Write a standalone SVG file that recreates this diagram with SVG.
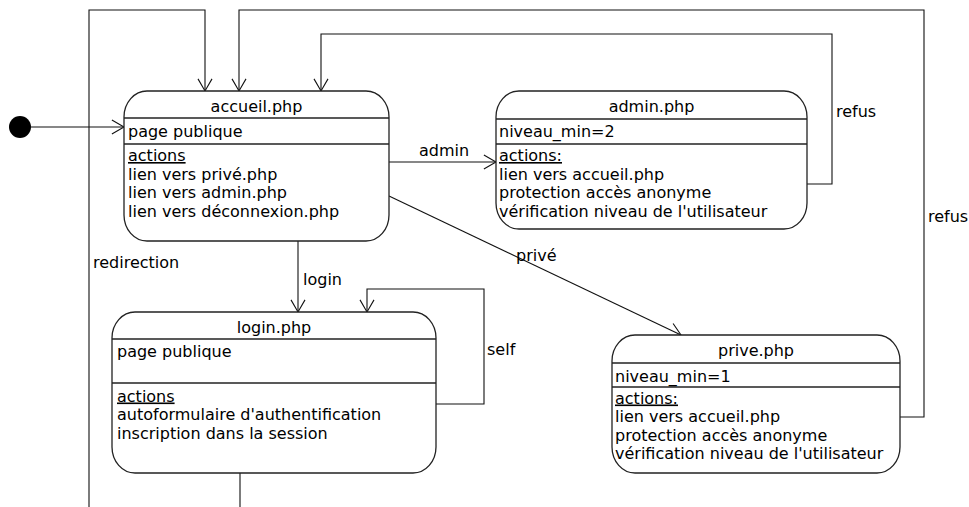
<svg xmlns="http://www.w3.org/2000/svg" width="969" height="507" viewBox="0 0 969 507">
  <style>
    text { font-family: "DejaVu Sans", "Liberation Sans", sans-serif; font-size: 16px; fill: #000; }
    .title { text-anchor: middle; }
    .u { text-decoration: underline; }
    .box { fill: #fff; stroke: #222; stroke-width: 1.3; }
    .sep { stroke: #222; stroke-width: 1.3; }
    .edge { fill: none; stroke: #111; stroke-width: 1.1; }
  </style>
  <defs>
    <marker id="open" markerUnits="userSpaceOnUse" markerWidth="16" markerHeight="16" viewBox="-14 -8 16 16" refX="0" refY="0" orient="auto" overflow="visible">
      <path d="M-12.1,-7 L0,0 L-12.1,7" fill="none" stroke="#111" stroke-width="1.1"/>
    </marker>
  </defs>

  <!-- transitions -->
  <g id="connectors">
    <circle cx="20" cy="127" r="11" fill="#000"/>
    <path class="edge" d="M31,127 H124" marker-end="url(#open)"/>
    <path class="edge" d="M240,473 V515 H89 V10 H205 V91" marker-end="url(#open)"/>
    <path class="edge" d="M900,417 H924 V10 H239 V91" marker-end="url(#open)"/>
    <path class="edge" d="M807,184 H832 V34 H321 V91" marker-end="url(#open)"/>
    <path class="edge" d="M389,162 H496" marker-end="url(#open)"/>
    <path class="edge" d="M389,196 L681,335" marker-end="url(#open)"/>
    <path class="edge" d="M298,241 V312" marker-end="url(#open)"/>
    <path class="edge" d="M436,404 H484 V289 H367 V312" marker-end="url(#open)"/>
    <text x="419" y="156">admin</text>
    <text x="516" y="261">privé</text>
    <text x="303" y="285">login</text>
    <text x="487" y="355">self</text>
    <text x="93" y="268">redirection</text>
    <text x="836" y="117">refus</text>
    <text x="928" y="222">refus</text>
  </g>

  <g id="accueil">
    <rect class="box" x="124" y="91" width="265" height="150" rx="23" ry="26"/>
    <line class="sep" x1="124" y1="118" x2="389" y2="118"/>
    <line class="sep" x1="124" y1="144" x2="389" y2="144"/>
    <text class="title" x="256.5" y="112">accueil.php</text>
    <text x="128" y="137">page publique</text>
    <text class="u" x="128" y="161">actions</text>
    <text x="128" y="179.5">lien vers privé.php</text>
    <text x="128" y="198">lien vers admin.php</text>
    <text x="128" y="216.5">lien vers déconnexion.php</text>
  </g>

  <g id="admin">
    <rect class="box" x="496" y="91" width="311" height="138" rx="23" ry="26"/>
    <line class="sep" x1="496" y1="119" x2="807" y2="119"/>
    <line class="sep" x1="496" y1="144" x2="807" y2="144"/>
    <text class="title" x="651.5" y="112">admin.php</text>
    <text x="499" y="137">niveau_min=2</text>
    <text class="u" x="499" y="161">actions:</text>
    <text x="499" y="179.5">lien vers accueil.php</text>
    <text x="499" y="198">protection accès anonyme</text>
    <text x="499" y="216.5">vérification niveau de l'utilisateur</text>
  </g>

  <g id="login">
    <rect class="box" x="112" y="312" width="324" height="161" rx="23" ry="26"/>
    <line class="sep" x1="112" y1="339" x2="436" y2="339"/>
    <line class="sep" x1="112" y1="383" x2="436" y2="383"/>
    <text class="title" x="274" y="333">login.php</text>
    <text x="117" y="357">page publique</text>
    <text class="u" x="117" y="401.5">actions</text>
    <text x="117" y="420">autoformulaire d'authentification</text>
    <text x="117" y="438.5">inscription dans la session</text>
  </g>

  <g id="prive">
    <rect class="box" x="612" y="335" width="288" height="138" rx="23" ry="26"/>
    <line class="sep" x1="612" y1="363" x2="900" y2="363"/>
    <line class="sep" x1="612" y1="387" x2="900" y2="387"/>
    <text class="title" x="756" y="356">prive.php</text>
    <text x="615" y="382">niveau_min=1</text>
    <text class="u" x="615" y="403.5">actions:</text>
    <text x="615" y="422">lien vers accueil.php</text>
    <text x="615" y="440.5">protection accès anonyme</text>
    <text x="615" y="459">vérification niveau de l'utilisateur</text>
  </g>
</svg>
